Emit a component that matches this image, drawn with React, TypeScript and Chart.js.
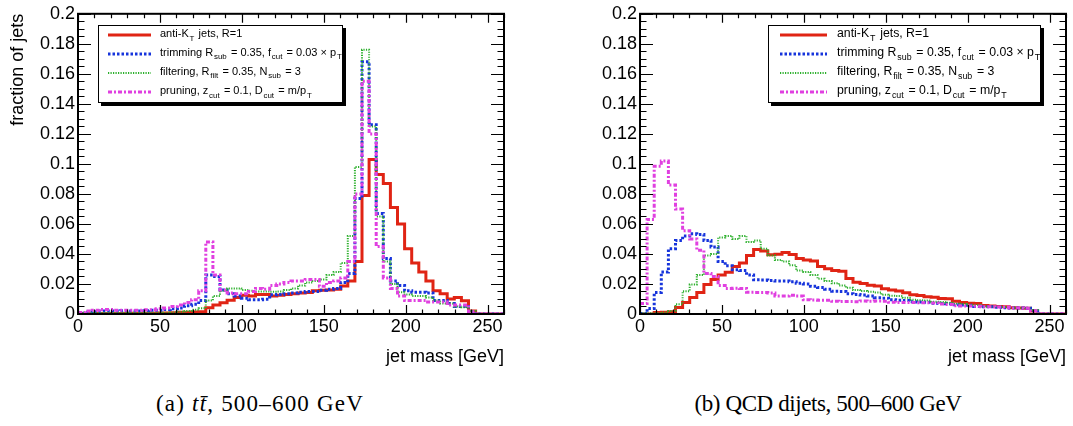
import React, { useEffect, useRef } from 'react';
import { Chart, registerables } from 'chart.js';

Chart.register(...registerables);

// ---------- data ----------
const X_MIN = 0;
const X_MAX = 260;
const N_BINS = 60;
const BIN_EDGES = Array.from({ length: N_BINS + 1 }, (_, i) => X_MIN + (i * (X_MAX - X_MIN)) / N_BINS);

const X_TICKS = [0, 50, 100, 150, 200, 250];
const X_TICK_LABELS = ['0', '50', '100', '150', '200', '250'];
const Y_TICKS = [0, 0.02, 0.04, 0.06, 0.08, 0.1, 0.12, 0.14, 0.16, 0.18, 0.2];
const Y_TICK_LABELS = ['0', '0.02', '0.04', '0.06', '0.08', '0.1', '0.12', '0.14', '0.16', '0.18', '0.2'];

const SERIES_NAMES = ['anti-kT', 'trimming', 'filtering', 'pruning'];

// (a) ttbar, 500-600 GeV
const TT_ANTIKT = [
  0.0003, 0.0003, 0.0003, 0.0004, 0.0004, 0.0004, 0.0004, 0.0005, 0.0005, 0.0005,
  0.0005, 0.0006, 0.0007, 0.0008, 0.0012, 0.0012, 0.0013, 0.0015, 0.0042, 0.006,
  0.0075, 0.0092, 0.011, 0.0125, 0.012, 0.013, 0.013, 0.012, 0.0125, 0.013,
  0.0135, 0.014, 0.0143, 0.0155, 0.0158, 0.016, 0.0165, 0.0186, 0.022, 0.035,
  0.079, 0.103, 0.093, 0.087, 0.071, 0.06, 0.0435, 0.034, 0.028, 0.022,
  0.0155, 0.0135, 0.01, 0.011, 0.0088, 0.002, 0, 0, 0, 0,
];
const TT_TRIM = [
  0.0005, 0.0012, 0.0015, 0.002, 0.002, 0.002, 0.0022, 0.002, 0.002, 0.0022,
  0.0025, 0.0025, 0.003, 0.0035, 0.004, 0.0055, 0.0065, 0.009, 0.026, 0.025,
  0.016, 0.0135, 0.012, 0.0105, 0.0095, 0.0095, 0.0098, 0.0128, 0.013, 0.0135,
  0.014, 0.0145, 0.015, 0.015, 0.0158, 0.0165, 0.017, 0.021, 0.027, 0.077,
  0.168, 0.126, 0.067, 0.037, 0.022, 0.019, 0.0155, 0.0145, 0.0145, 0.014,
  0.009, 0.009, 0.007, 0.005, 0.005, 0.0015, 0, 0, 0, 0,
];
const TT_FILT = [
  0.0008, 0.0008, 0.0008, 0.0008, 0.0008, 0.0008, 0.0008, 0.0008, 0.0008, 0.0008,
  0.0008, 0.0008, 0.0009, 0.001, 0.0015, 0.002, 0.0028, 0.0038, 0.009, 0.012,
  0.0155, 0.017, 0.017, 0.016, 0.0155, 0.015, 0.015, 0.0148, 0.015, 0.016,
  0.017, 0.019, 0.021, 0.022, 0.023, 0.026, 0.028, 0.034, 0.052, 0.098,
  0.176, 0.125, 0.065, 0.035, 0.02, 0.0145, 0.013, 0.012, 0.012, 0.011,
  0.009, 0.007, 0.007, 0.005, 0.0045, 0.002, 0, 0, 0, 0,
];
const TT_PRUNE = [
  0.001, 0.002, 0.0025, 0.003, 0.003, 0.0025, 0.0025, 0.0025, 0.0025, 0.0028,
  0.0028, 0.0035, 0.004, 0.005, 0.006, 0.0077, 0.0095, 0.0155, 0.048, 0.026,
  0.016, 0.014, 0.0135, 0.0135, 0.015, 0.017, 0.0165, 0.019, 0.02, 0.021,
  0.022, 0.022, 0.023, 0.023, 0.0185, 0.021, 0.022, 0.024, 0.035, 0.08,
  0.155, 0.12, 0.045, 0.024, 0.017, 0.012, 0.009, 0.009, 0.009, 0.008,
  0.008, 0.008, 0.006, 0.006, 0.006, 0.0015, 0, 0, 0, 0,
];

// (b) QCD dijets, 500-600 GeV
const QCD_ANTIKT = [
  0, 0, 0.001, 0.0012, 0.0015, 0.0044, 0.0076, 0.011, 0.0143, 0.0196,
  0.023, 0.026, 0.0278, 0.0316, 0.034, 0.039, 0.043, 0.042, 0.0395, 0.0398,
  0.041, 0.0396, 0.037, 0.036, 0.0353, 0.0316, 0.0302, 0.029, 0.0285, 0.0236,
  0.0212, 0.0204, 0.0192, 0.0186, 0.0168, 0.016, 0.0153, 0.0142, 0.0128, 0.0124,
  0.0115, 0.0111, 0.0104, 0.0102, 0.0085, 0.0076, 0.0072, 0.007, 0.0056, 0.0054,
  0.005, 0.0048, 0.0042, 0.004, 0.0038, 0.002, 0, 0, 0, 0,
];
const QCD_TRIM = [
  0.0003, 0.0037, 0.0143, 0.028, 0.0435, 0.049, 0.052, 0.0535, 0.053, 0.049,
  0.0446, 0.035, 0.0322, 0.0295, 0.029, 0.026, 0.0228, 0.0226, 0.0224, 0.022,
  0.022, 0.0215, 0.0205, 0.02, 0.0185, 0.0176, 0.0165, 0.0152, 0.015, 0.0135,
  0.013, 0.0126, 0.012, 0.0108, 0.0105, 0.0095, 0.0092, 0.009, 0.0082, 0.008,
  0.0078, 0.0072, 0.007, 0.0068, 0.0062, 0.006, 0.0058, 0.005, 0.0048, 0.0048,
  0.0045, 0.0042, 0.004, 0.004, 0.0038, 0.0022, 0, 0, 0, 0,
];
const QCD_FILT = [
  0.0005, 0.0005, 0.0005, 0.001, 0.002, 0.0065, 0.0152, 0.0196, 0.026, 0.039,
  0.04, 0.051, 0.052, 0.05, 0.052, 0.048, 0.049, 0.0435, 0.039, 0.036,
  0.035, 0.0325, 0.029, 0.028, 0.026, 0.0235, 0.022, 0.0205, 0.019, 0.0175,
  0.016, 0.0153, 0.0148, 0.0144, 0.0128, 0.0122, 0.012, 0.0109, 0.0095, 0.0092,
  0.009, 0.0082, 0.008, 0.0075, 0.0068, 0.0066, 0.006, 0.006, 0.005, 0.0048,
  0.0048, 0.0046, 0.0042, 0.004, 0.004, 0.0026, 0, 0, 0, 0,
];
const QCD_PRUNE = [
  0.007, 0.063, 0.0985, 0.102, 0.086, 0.07, 0.0555, 0.05, 0.0425, 0.027,
  0.025, 0.019, 0.017, 0.0172, 0.017, 0.0145, 0.0143, 0.0143, 0.014, 0.012,
  0.012, 0.0125, 0.012, 0.0095, 0.0094, 0.0092, 0.0092, 0.0085, 0.0083, 0.0083,
  0.0082, 0.0087, 0.0085, 0.0087, 0.0085, 0.0078, 0.0076, 0.0076, 0.0076, 0.0075,
  0.0075, 0.0074, 0.0066, 0.0064, 0.0055, 0.0054, 0.0054, 0.0052, 0.0048, 0.0048,
  0.0047, 0.0046, 0.004, 0.004, 0.0038, 0.0022, 0, 0, 0, 0,
];

// ---------- styles ----------
const STYLES = [
  { color: '#e02414', width: 3, dash: [] as number[], order: 3 },
  { color: '#1634dc', width: 3, dash: [2.5, 2], order: 2 },
  { color: '#2cb02c', width: 2, dash: [1.2, 1.3], order: 1 },
  { color: '#e040e0', width: 3, dash: [4, 2, 2, 2], order: 0 },
];

const FONT = "'Liberation Sans', Arial, Helvetica, sans-serif";

function stepPoints(vals: number[]) {
  const pts = vals.map((v, i) => ({ x: BIN_EDGES[i], y: v }));
  pts.push({ x: BIN_EDGES[vals.length], y: vals[vals.length - 1] });
  return pts;
}

const rootFrame = {
  id: 'rootFrame',
  afterDraw(chart: any) {
    const { ctx, chartArea, scales } = chart;
    const { left, right, top, bottom } = chartArea;
    const xs = scales.x;
    const ys = scales.y;
    ctx.save();
    ctx.strokeStyle = '#000';
    ctx.lineWidth = 1.2;
    ctx.beginPath();
    for (let v = X_MIN; v <= X_MAX + 1e-9; v += 10) {
      const px = Math.round(xs.getPixelForValue(v)) + 0.5;
      const len = v % 50 === 0 ? 9 : 4.5;
      ctx.moveTo(px, bottom);
      ctx.lineTo(px, bottom - len);
      ctx.moveTo(px, top);
      ctx.lineTo(px, top + len);
    }
    for (let k = 0; k <= 40; k++) {
      const v = k * 0.005;
      const py = Math.round(ys.getPixelForValue(v)) + 0.5;
      const len = k % 4 === 0 ? 13 : 6.5;
      ctx.moveTo(left, py);
      ctx.lineTo(left + len, py);
      ctx.moveTo(right, py);
      ctx.lineTo(right - len, py);
    }
    ctx.stroke();
    ctx.lineWidth = 2;
    ctx.strokeRect(left, top, right - left, bottom - top);
    ctx.restore();
  },
};

type PanelProps = {
  left: number;
  width: number;
  yWidth: number;
  padRight: number;
  showYTitle: boolean;
  series: number[][];
};

function Panel({ left, width, yWidth, padRight, showYTitle, series }: PanelProps) {
  const ref = useRef<HTMLCanvasElement>(null);
  useEffect(() => {
    const datasets = series.map((vals, i) => ({
      label: SERIES_NAMES[i],
      data: stepPoints(vals),
      borderColor: STYLES[i].color,
      borderWidth: STYLES[i].width,
      borderDash: STYLES[i].dash,
      borderCapStyle: 'butt' as const,
      borderJoinStyle: 'miter' as const,
      stepped: 'before' as const,
      pointRadius: 0,
      fill: false,
      order: STYLES[i].order,
    }));
    const chart = new Chart(ref.current!, {
      type: 'line',
      data: { datasets },
      options: {
        animation: false,
        responsive: false,
        maintainAspectRatio: false,
        events: [],
        layout: { padding: { top: 6, right: padRight, left: 0, bottom: 0 } },
        plugins: { legend: { display: false }, tooltip: { enabled: false } },
        scales: {
          x: {
            type: 'linear',
            min: X_MIN,
            max: X_MAX,
            afterFit: (s: any) => { s.height = 66; },
            afterBuildTicks: (s: any) => { s.ticks = X_TICKS.map((v) => ({ value: v })); },
            grid: { display: false, drawTicks: false },
            border: { display: false },
            ticks: {
              color: '#000',
              font: { family: FONT, size: 18 },
              padding: 2,
              maxRotation: 0,
              autoSkip: false,
              callback: (v: any) => X_TICK_LABELS[X_TICKS.indexOf(Number(v))] ?? '',
            },
            title: {
              display: true,
              text: 'jet mass [GeV]',
              align: 'end',
              color: '#000',
              font: { family: FONT, size: 18 },
              padding: { top: 0, bottom: 12 },
            },
          },
          y: {
            type: 'linear',
            min: 0,
            max: 0.2,
            afterFit: (s: any) => { s.width = yWidth; },
            afterBuildTicks: (s: any) => { s.ticks = Y_TICKS.map((v) => ({ value: v })); },
            grid: { display: false, drawTicks: false },
            border: { display: false },
            ticks: {
              color: '#000',
              font: { family: FONT, size: 18 },
              padding: 3,
              autoSkip: false,
              callback: (v: any) => {
                const idx = Y_TICKS.findIndex((t) => Math.abs(t - Number(v)) < 1e-9);
                return idx >= 0 ? Y_TICK_LABELS[idx] : '';
              },
            },
            title: {
              display: showYTitle,
              text: 'fraction of jets',
              align: 'end',
              color: '#000',
              font: { family: FONT, size: 18 },
              padding: { top: 7, bottom: 0 },
            },
          },
        },
      },
      plugins: [rootFrame],
    } as any);
    return () => chart.destroy();
  }, []);
  return (
    <canvas
      ref={ref}
      width={width}
      height={380}
      style={{ position: 'absolute', left, top: 0, width, height: 380 }}
    />
  );
}

const subStyle: React.CSSProperties = {
  fontSize: '0.72em',
  position: 'relative',
  top: '0.45em',
  margin: '0 0.15em 0 0.1em',
};

function LegendText({ i }: { i: number }) {
  if (i === 0)
    return (<span>anti-K<span style={subStyle}>T</span> jets, R=1</span>);
  if (i === 1)
    return (<span>trimming R<span style={subStyle}>sub</span> = 0.35, f<span style={subStyle}>cut</span> = 0.03 × p<span style={subStyle}>T</span></span>);
  if (i === 2)
    return (<span>filtering, R<span style={subStyle}>filt</span> = 0.35, N<span style={subStyle}>sub</span> = 3</span>);
  return (<span>pruning, z<span style={subStyle}>cut</span> = 0.1, D<span style={subStyle}>cut</span> = m/p<span style={subStyle}>T</span></span>);
}

function LegendBox({ left, width, sampleX, sampleW, textX, fontSize }: { left: number; width: number; sampleX: number; sampleW: number; textX: number; fontSize: number }) {
  const rows = [9, 27.7, 46.7, 66];
  return (
    <div
      style={{
        position: 'absolute', left, top: 25, width, height: 78, boxSizing: 'border-box',
        border: '1px solid #000', background: '#fff', boxShadow: '3px 3px 0 #000',
        fontFamily: FONT, fontSize, color: '#000',
      }}
    >
      {rows.map((cy, i) => (
        <React.Fragment key={i}>
          <svg style={{ position: 'absolute', left: sampleX, top: cy - 4 }} width={sampleW} height={8}>
            <line x1={0} y1={4} x2={sampleW} y2={4} stroke={STYLES[i].color} strokeWidth={STYLES[i].width}
              strokeDasharray={STYLES[i].dash.length ? STYLES[i].dash.join(' ') : undefined} />
          </svg>
          <div style={{ position: 'absolute', left: textX, top: cy - fontSize * 0.62, whiteSpace: 'nowrap', lineHeight: 1 }}>
            <LegendText i={i} />
          </div>
        </React.Fragment>
      ))}
    </div>
  );
}

export default function App() {
  const capStyle: React.CSSProperties = {
    position: 'absolute', top: 391, textAlign: 'center', whiteSpace: 'nowrap',
    fontFamily: "'Liberation Serif', 'Times New Roman', serif", fontSize: 23, color: '#000',
  };
  return (
    <div style={{ position: 'absolute', left: 0, top: 0, width: 1073, height: 426, background: '#fff', overflow: 'hidden' }}>
      <Panel left={0} width={520} yWidth={78} padRight={16} showYTitle={true}
        series={[TT_ANTIKT, TT_TRIM, TT_FILT, TT_PRUNE]} />
      <Panel left={560} width={513} yWidth={80} padRight={7} showYTitle={false}
        series={[QCD_ANTIKT, QCD_TRIM, QCD_FILT, QCD_PRUNE]} />
      <LegendBox left={98} width={245} sampleX={9} sampleW={43} textX={61} fontSize={11} />
      <LegendBox left={768} width={273} sampleX={11} sampleW={47} textX={68} fontSize={12.3} />
      <div style={{ ...capStyle, left: 60, width: 400, letterSpacing: 1.2 }}>(a) <i>tt̄</i>, 500–600 GeV</div>
      <div style={{ ...capStyle, left: 628, width: 400, letterSpacing: -0.4 }}>(b) QCD dijets, 500–600 GeV</div>
    </div>
  );
}
